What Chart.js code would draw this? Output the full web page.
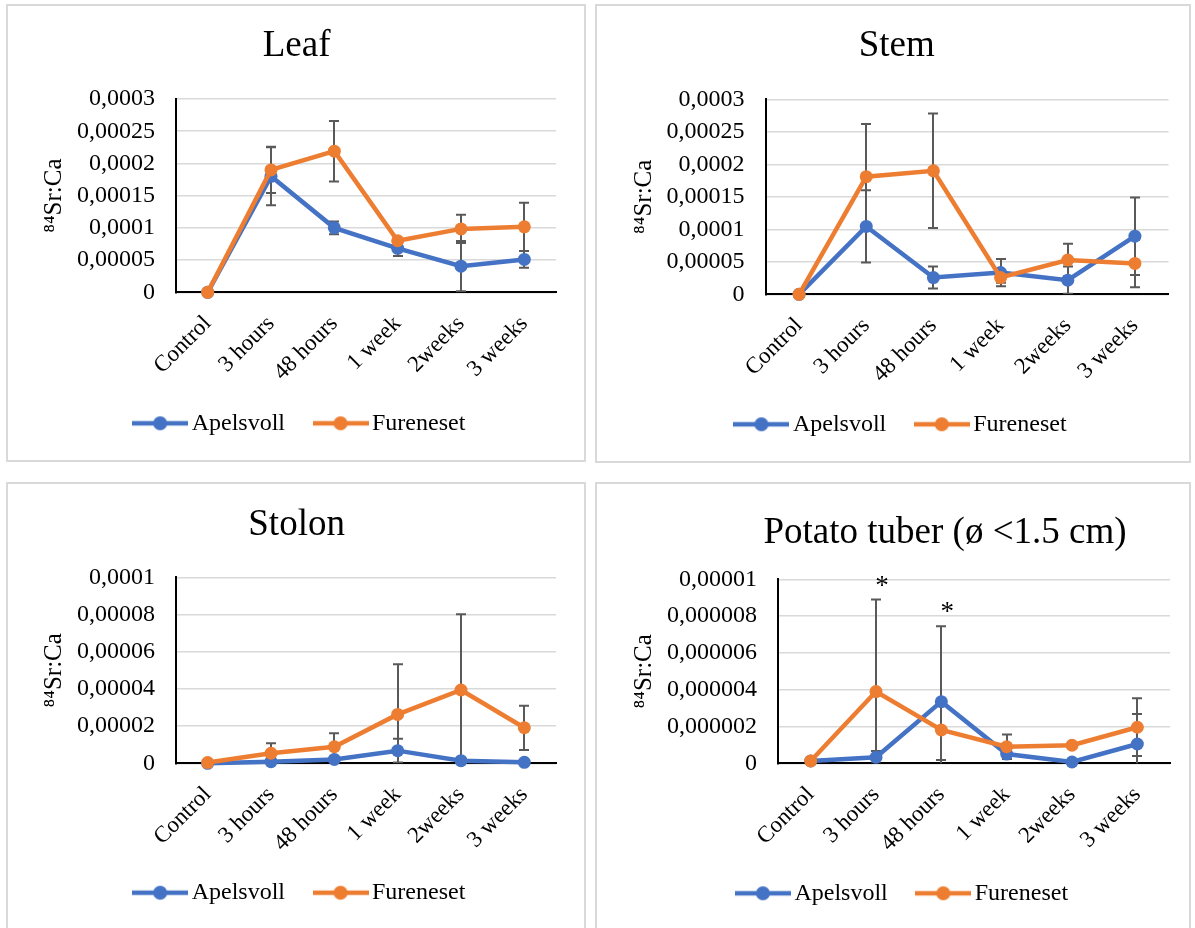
<!DOCTYPE html>
<html>
<head>
<meta charset="utf-8">
<script src="https://cdn.jsdelivr.net/npm/chart.js@4.4.1/dist/chart.umd.min.js"></script>
<style>
body{margin:0;background:#fff;width:1195px;height:928px;overflow:hidden;position:relative;}
.panel{position:absolute;box-sizing:border-box;border:2px solid #d9d9d9;}
canvas{position:absolute;}
</style>
</head>
<body>
<div class="panel" style="left:6px;top:4px;width:580px;height:458px"></div>
<div class="panel" style="left:595px;top:4px;width:596px;height:459px"></div>
<div class="panel" style="left:6px;top:482px;width:580px;height:460px"></div>
<div class="panel" style="left:595px;top:482px;width:596px;height:460px"></div>
<canvas id="leaf" width="578" height="456" style="left:7px;top:5px"></canvas>
<canvas id="stem" width="594" height="457" style="left:596px;top:5px"></canvas>
<canvas id="stolon" width="578" height="445" style="left:7px;top:483px"></canvas>
<canvas id="tuber" width="594" height="445" style="left:596px;top:483px"></canvas>
<script>
// categories and series
var categories = ['Control', '3 hours', '48 hours', '1 week', '2weeks', '3 weeks'];

var leafApelsvoll = [0, 0.00018, 0.0001, 0.0000683, 0.0000406, 0.000051];
var leafFureneset = [0, 0.00019, 0.000219, 0.00008, 0.0000984, 0.0001016];
var leafApelsvollErr = [0, 0.000045, 0.00001, 0.000012, 0.000039, 0.000013];
var leafFurenesetErr = [0, 0.000036, 0.000047, 0.000003, 0.000022, 0.0000374];

var stemApelsvoll = [0, 0.0001045, 0.0000258, 0.0000335, 0.0000217, 0.0000894];
var stemFureneset = [0, 0.000181, 0.00019, 0.0000258, 0.0000528, 0.0000475];
var stemApelsvollErr = [0, 0.0000557, 0.000017, 0.000021, 0.000021, 0.0000596];
var stemFurenesetErr = [0, 0.000081, 0.000088, 0.000008, 0.000025, 0.0000366];

var stolonApelsvoll = [0, 0.0000009, 0.0000021, 0.0000068, 0.0000014, 0.0000005];
var stolonFureneset = [0.0000004, 0.0000054, 0.0000089, 0.0000263, 0.0000394, 0.0000191];
var stolonApelsvollErr = [0, 0.0000005, 0.0000008, 0.0000064, 0.0000006, 0.0000003];
var stolonFurenesetErr = [0, 0.0000054, 0.0000072, 0.000027, 0.0000407, 0.0000119];

var tuberApelsvoll = [0.000000125, 0.00000033, 0.00000335, 0.0000005, 0.00000007, 0.00000105];
var tuberFureneset = [0.000000125, 0.0000039, 0.00000181, 0.0000009, 0.00000098, 0.00000196];
var tuberApelsvollErr = [0, 0.00000034, 0.0000041, 0.0000001, 0.00000005, 0.00000163];
var tuberFurenesetErr = [0, 0.000005, 0.00000163, 0.00000067, 0.0000001, 0.00000157];
var tuberStars = [null, 0.0000096, 0.0000082, null, null, null];

// y axis ticks
var bigTicks = [0, 0.00005, 0.0001, 0.00015, 0.0002, 0.00025, 0.0003];
var bigTickLabels = ['0', '0,00005', '0,0001', '0,00015', '0,0002', '0,00025', '0,0003'];
var stolonTicks = [0, 0.00002, 0.00004, 0.00006, 0.00008, 0.0001];
var stolonTickLabels = ['0', '0,00002', '0,00004', '0,00006', '0,00008', '0,0001'];
var tuberTicks = [0, 0.000002, 0.000004, 0.000006, 0.000008, 0.00001];
var tuberTickLabels = ['0', '0,000002', '0,000004', '0,000006', '0,000008', '0,00001'];

var blue = '#4472C4', orange = '#ED7D31';
var serif = 'Liberation Serif';

function legendIcon(color) {
  var c = document.createElement('canvas');
  c.width = 56; c.height = 16;
  var g = c.getContext('2d');
  g.strokeStyle = color; g.lineWidth = 4.5;
  g.beginPath(); g.moveTo(0, 8); g.lineTo(56, 8); g.stroke();
  g.fillStyle = color;
  g.beginPath(); g.arc(28, 8, 7, 0, Math.PI * 2); g.fill();
  return c;
}
var icons = [legendIcon(blue), legendIcon(orange)];

// error bars drawn under the lines
var errorBars = {
  id: 'errorBars',
  afterLayout: function(chart) {
    // let the rotated category labels run past the axis box instead of being clipped
    chart.scales.x.bottom = chart.height;
  },
  beforeDatasetsDraw: function(chart) {
    var ctx = chart.ctx, xs = chart.scales.x, ys = chart.scales.y, a = chart.chartArea;
    ctx.save();
    ctx.beginPath(); ctx.rect(a.left, 0, a.width, a.bottom); ctx.clip();
    ctx.strokeStyle = '#595959'; ctx.lineWidth = 2;
    chart.data.datasets.forEach(function(ds) {
      ds.errors.forEach(function(e, i) {
        if (!e) return;
        var px = Math.round(xs.getPixelForValue(i));
        var hi = ys.getPixelForValue(ds.data[i] + e);
        var lo = ys.getPixelForValue(ds.data[i] - e);
        ctx.beginPath();
        ctx.moveTo(px, hi); ctx.lineTo(px, lo);
        ctx.moveTo(px - 5, hi); ctx.lineTo(px + 5, hi);
        ctx.moveTo(px - 5, lo); ctx.lineTo(px + 5, lo);
        ctx.stroke();
      });
    });
    ctx.restore();
  }
};

// panel title and significance stars
var panelText = {
  id: 'panelText',
  afterDraw: function(chart, args, opts) {
    var ctx = chart.ctx;
    ctx.save();
    ctx.fillStyle = '#000';
    ctx.textAlign = 'center';
    ctx.textBaseline = 'middle';
    ctx.font = '37px "' + serif + '"';
    ctx.fillText(opts.text, opts.x, opts.y);
    if (opts.stars) {
      ctx.font = '27px "' + serif + '"';
      opts.stars.forEach(function(v, i) {
        if (v == null) return;
        ctx.fillText('*', chart.scales.x.getPixelForValue(i) + 6, chart.scales.y.getPixelForValue(v));
      });
    }
    ctx.restore();
  }
};

function makeChart(id, p) {
  return new Chart(document.getElementById(id), {
    type: 'line',
    data: {
      labels: categories,
      datasets: [
        {label: 'Apelsvoll', data: p.a, errors: p.aErr, order: 1,
         borderColor: blue, backgroundColor: blue, pointBackgroundColor: blue, pointBorderColor: blue},
        {label: 'Fureneset', data: p.f, errors: p.fErr, order: 0,
         borderColor: orange, backgroundColor: orange, pointBackgroundColor: orange, pointBorderColor: orange}
      ]
    },
    options: {
      responsive: false,
      animation: false,
      events: [],
      clip: false,
      layout: {padding: p.pad},
      elements: {
        line: {borderWidth: 4.5, tension: 0},
        point: {radius: 6.5, borderWidth: 0}
      },
      scales: {
        x: {
          offset: true,
          afterFit: function(s) { s.height = p.xh; },
          grid: {display: false, drawTicks: false},
          border: {display: true, color: '#000', width: 2},
          ticks: {minRotation: 45, maxRotation: 45, padding: 18, color: '#000',
                  font: {family: serif, size: 23}}
        },
        y: {
          min: 0, max: p.ticks[p.ticks.length - 1],
          afterFit: function(s) { s.width = p.yw; },
          afterBuildTicks: function(s) { s.ticks = p.ticks.map(function(v) { return {value: v}; }); },
          grid: {color: '#d9d9d9', lineWidth: 1.5, drawTicks: false},
          border: {display: true, color: '#000', width: 2},
          ticks: {padding: 21, color: '#000', font: {family: serif, size: 24},
                  callback: function(v, i) { return p.tickLabels[i]; }},
          title: {display: true, text: '⁸⁴Sr:Ca', color: '#000',
                  font: {family: serif, size: 25}, padding: {top: p.tp, bottom: 0}}
        }
      },
      plugins: {
        tooltip: {enabled: false},
        legend: {
          position: 'bottom',
          labels: {
            usePointStyle: true, pointStyleWidth: 39, padding: 36, color: '#000',
            font: {family: serif, size: 24},
            generateLabels: function(chart) {
              return chart.data.datasets.map(function(ds, i) {
                return {text: ds.label, pointStyle: icons[i], datasetIndex: i, hidden: false,
                        lineWidth: 0, fillStyle: ds.borderColor, strokeStyle: ds.borderColor, fontColor: '#000'};
              });
            }
          }
        },
        panelText: {text: p.title, x: p.tx, y: p.ty, stars: p.stars}
      }
    },
    plugins: [errorBars, panelText]
  });
}

makeChart('leaf', {
  title: 'Leaf', tx: 289.6, ty: 41.7,
  a: leafApelsvoll, f: leafFureneset, aErr: leafApelsvollErr, fErr: leafFurenesetErr,
  ticks: bigTicks, tickLabels: bigTickLabels,
  pad: {left: 43, right: 29, top: 94, bottom: 15.7}, yw: 126, xh: 83, tp: -11
});
makeChart('stem', {
  title: 'Stem', tx: 300.7, ty: 41.7,
  a: stemApelsvoll, f: stemFureneset, aErr: stemApelsvollErr, fErr: stemFurenesetErr,
  ticks: bigTicks, tickLabels: bigTickLabels,
  pad: {left: 44, right: 21.5, top: 94.3, bottom: 15.7}, yw: 125.5, xh: 82, tp: -11
});
makeChart('stolon', {
  title: 'Stolon', tx: 289.6, ty: 42,
  a: stolonApelsvoll, f: stolonFureneset, aErr: stolonApelsvollErr, fErr: stolonFurenesetErr,
  ticks: stolonTicks, tickLabels: stolonTickLabels,
  pad: {left: 43, right: 29, top: 94.3, bottom: 13.3}, yw: 126, xh: 81.4, tp: -11
});
makeChart('tuber', {
  title: 'Potato tuber (ø <1.5 cm)', tx: 349, ty: 50.3, stars: tuberStars,
  a: tuberApelsvoll, f: tuberFureneset, aErr: tuberApelsvollErr, fErr: tuberFurenesetErr,
  ticks: tuberTicks, tickLabels: tuberTickLabels,
  pad: {left: 45.5, right: 20, top: 96.3, bottom: 12.7}, yw: 136.5, xh: 82, tp: -12.5
});
</script>
</body>
</html>
